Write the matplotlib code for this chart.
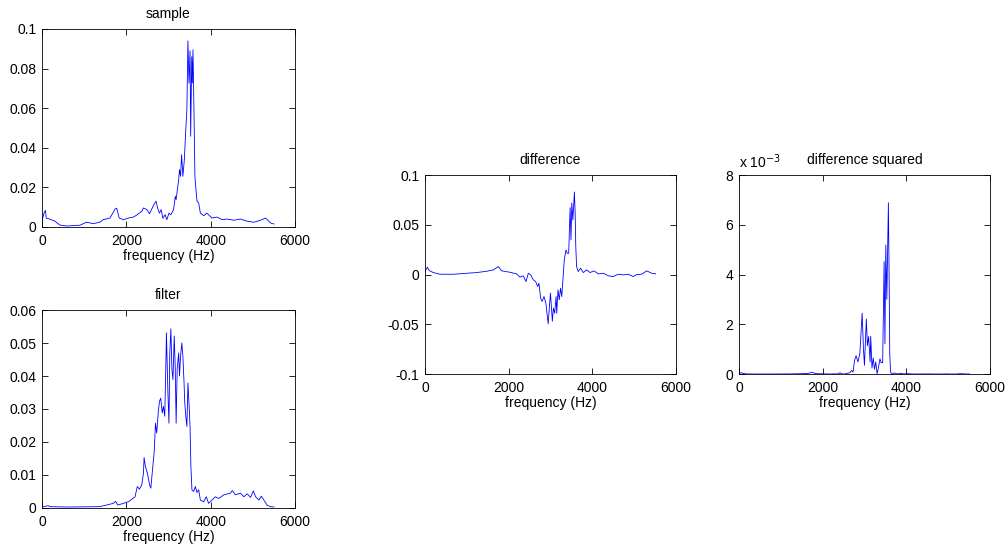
import numpy as np
import matplotlib
matplotlib.use("Agg")
import matplotlib.pyplot as plt
from matplotlib.ticker import FuncFormatter

plt.rcParams['font.family'] = ['Liberation Sans', 'DejaVu Sans']

# =============================
# Data (frequency in Hz, magnitude)
# =============================
sample_f = [0, 48, 80, 100, 150, 300, 420, 580, 900, 1055, 1215, 1370, 1450, 1610,
            1730, 1770, 1830, 1930, 2050, 2165, 2245, 2365, 2405, 2485, 2550, 2600,
            2665, 2705, 2740, 2785, 2825, 2865, 2920, 2960, 3010, 3055, 3120, 3160,
            3180, 3240, 3260, 3285, 3310, 3340, 3375, 3405, 3435, 3460, 3485, 3510,
            3525, 3550, 3565, 3580, 3605, 3625, 3650, 3675, 3715, 3755, 3835, 3910,
            4030, 4150, 4270, 4390, 4550, 4705, 4865, 5025, 5180, 5300, 5340, 5420, 5500]
sample_v = [0.003, 0.007, 0.0084, 0.0045, 0.0042, 0.003, 0.001, 0.0005, 0.0009, 0.0024,
            0.0017, 0.0024, 0.0037, 0.0045, 0.009, 0.0095, 0.0045, 0.0037, 0.0045, 0.005,
            0.006, 0.0079, 0.0096, 0.0088, 0.0067, 0.009, 0.0118, 0.013, 0.0096, 0.007,
            0.0088, 0.0044, 0.0062, 0.0037, 0.007, 0.0062, 0.0088, 0.0155, 0.0138, 0.024,
            0.029, 0.0256, 0.0365, 0.0256, 0.034, 0.0475, 0.0593, 0.094, 0.0727, 0.089,
            0.0458, 0.086, 0.0727, 0.0895, 0.056, 0.0256, 0.019, 0.013, 0.0121, 0.007,
            0.0057, 0.007, 0.0045, 0.005, 0.0037, 0.004, 0.0034, 0.004, 0.0029, 0.0024,
            0.0034, 0.0045, 0.0037, 0.002, 0.0015]

filter_f = [0, 143, 200, 580, 1370, 1530, 1690, 1745, 1795, 1930, 2050, 2125, 2205,
            2260, 2310, 2365, 2405, 2420, 2450, 2500, 2550, 2580, 2620, 2660, 2690, 2720,
            2755, 2785, 2815, 2850, 2880, 2910, 2935, 2950, 2985, 3010, 3030, 3055, 3080,
            3105, 3135, 3160, 3180, 3205, 3240, 3260, 3285, 3315, 3340, 3365, 3385, 3410,
            3435, 3460, 3485, 3510, 3530, 3555, 3595, 3635, 3675, 3715, 3755, 3835, 3895,
            3950, 4030, 4110, 4190, 4310, 4470, 4510, 4585, 4705, 4785, 4865, 4945, 5010,
            5065, 5145, 5200, 5260, 5340, 5420, 5500]
filter_v = [0.0003, 0.0007, 0.0004, 0.0003, 0.0004, 0.0009, 0.0014, 0.002, 0.0009, 0.0014,
            0.0019, 0.0026, 0.0034, 0.0065, 0.0057, 0.007, 0.0105, 0.0153, 0.0126, 0.0105,
            0.007, 0.006, 0.0116, 0.0171, 0.0257, 0.0227, 0.0288, 0.0323, 0.0333, 0.0288,
            0.0308, 0.0278, 0.0425, 0.0531, 0.0349, 0.0257, 0.047, 0.0543, 0.042, 0.0389,
            0.0521, 0.042, 0.0257, 0.042, 0.047, 0.04, 0.046, 0.05, 0.046, 0.0389, 0.0318,
            0.0278, 0.0247, 0.0379, 0.0318, 0.0247, 0.0126, 0.0055, 0.005, 0.0065, 0.0047,
            0.0055, 0.0024, 0.0019, 0.0034, 0.0014, 0.0024, 0.0034, 0.0029, 0.004, 0.0045,
            0.0053, 0.004, 0.0045, 0.0034, 0.0043, 0.0032, 0.0052, 0.0034, 0.0024, 0.0036,
            0.0024, 0.0008, 0.0004, 0.0003]

diff_f = [0, 56, 104, 200, 360, 680, 1000, 1235, 1475, 1635, 1755, 1835, 2030, 2190,
          2270, 2350, 2415, 2470, 2525, 2590, 2645, 2695, 2725, 2765, 2800, 2845, 2890,
          2945, 2975, 3000, 3045, 3070, 3100, 3135, 3150, 3180, 3210, 3240, 3270, 3300,
          3330, 3370, 3400, 3435, 3470, 3490, 3510, 3535, 3572, 3590, 3605, 3625, 3665,
          3720, 3785, 3865, 3945, 4040, 4145, 4265, 4385, 4500, 4620, 4740, 4860, 4980,
          5060, 5180, 5300, 5420, 5515]
diff_v = [0.003, 0.0074, 0.004, 0.002, 0.0003, 0.0003, 0.0013, 0.002, 0.0033, 0.0047,
          0.008, 0.0037, 0.0023, 0.0007, -0.0027, -0.0013, -0.007, 0.0013, -0.0003, -0.0054,
          -0.007, -0.012, -0.0087, -0.0237, -0.0271, -0.0221, -0.0288, -0.0495, -0.0321,
          -0.0187, -0.047, -0.0338, -0.0388, -0.0221, -0.039, -0.0154, -0.0254, -0.0137,
          -0.0221, -0.0037, 0.0147, 0.0247, 0.0214, 0.0214, 0.0672, 0.0348, 0.072, 0.0548,
          0.083, 0.0615, 0.0281, 0.008, 0.003, 0.0064, 0.002, 0.0047, 0.002, 0.0037, 0.0007,
          0.0013, -0.0013, -0.002, 0.0003, -0.0003, 0.0003, -0.002, 0, 0.0003, 0.0037,
          0.0013, 0.0007]

diff_sq_v = np.array(diff_v) ** 2

# =============================
# Figure
# =============================
fig = plt.figure(figsize=(10.08, 5.48), dpi=100)
ax_s = fig.add_axes([0.0417, 0.5858, 0.251, 0.3613])
ax_f = fig.add_axes([0.0417, 0.0730, 0.251, 0.3613])
ax_d = fig.add_axes([0.4216, 0.3175, 0.249, 0.3630])
ax_q = fig.add_axes([0.7331, 0.3175, 0.249, 0.3630])

fmt = FuncFormatter(lambda v, p: "%g" % round(v, 6))


def style(ax, title, ylim, yticks):
    ax.set_xlim(0, 6000)
    ax.set_xticks([0, 2000, 4000, 6000])
    ax.set_ylim(*ylim)
    ax.set_yticks(yticks)
    ax.yaxis.set_major_formatter(fmt)
    ax.tick_params(direction='in', top=True, right=True, length=4, width=0.6,
                   labelsize=10)
    ax.tick_params(axis='x', pad=5)
    ax.tick_params(axis='y', pad=4)
    for sp in ax.spines.values():
        sp.set_linewidth(0.6)
    ax.set_title(title, fontsize=10, pad=8)
    ax.set_xlabel("frequency (Hz)", fontsize=10, labelpad=1)


ax_s.plot(sample_f, sample_v, color='blue', linewidth=0.6)
style(ax_s, "sample", (0, 0.1), [0, 0.02, 0.04, 0.06, 0.08, 0.1])

ax_f.plot(filter_f, filter_v, color='blue', linewidth=0.6)
style(ax_f, "filter", (0, 0.06), [0, 0.01, 0.02, 0.03, 0.04, 0.05, 0.06])

ax_d.plot(diff_f, diff_v, color='blue', linewidth=0.6)
style(ax_d, "difference", (-0.1, 0.1), [-0.1, -0.05, 0, 0.05, 0.1])

ax_q.plot(diff_f, diff_sq_v, color='blue', linewidth=0.6)
style(ax_q, "difference squared", (0, 0.008), [0, 0.002, 0.004, 0.006, 0.008])
ax_q.yaxis.set_major_formatter(FuncFormatter(lambda v, p: "%g" % round(v * 1000, 6)))
ax_q.text(0.0, 1.02, r"x 10$^{-3}$", transform=ax_q.transAxes, fontsize=10,
          ha='left', va='bottom')

fig.savefig("out.png", dpi=100)
